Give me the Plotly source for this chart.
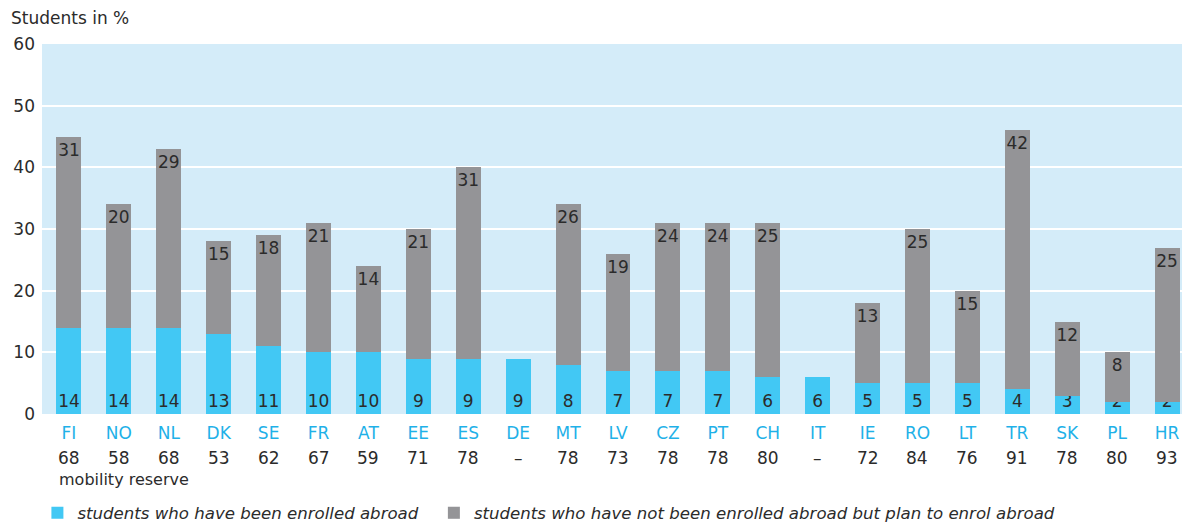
import plotly.graph_objects as go

countries = ["FI", "NO", "NL", "DK", "SE", "FR", "AT", "EE", "ES", "DE", "MT", "LV",
             "CZ", "PT", "CH", "IT", "IE", "RO", "LT", "TR", "SK", "PL", "HR"]
enrolled = [14, 14, 14, 13, 11, 10, 10, 9, 9, 9, 8, 7, 7, 7, 6, 6, 5, 5, 5, 4, 3, 2, 2]
plan = [31, 20, 29, 15, 18, 21, 14, 21, 31, None, 26, 19, 24, 24, 25, None, 13, 25, 15, 42, 12, 8, 25]
mobility_reserve = ["68", "58", "68", "53", "62", "67", "59", "71", "78", "–", "78", "73",
                    "78", "78", "80", "–", "72", "84", "76", "91", "78", "80", "93"]
y_ticks = [0, 10, 20, 30, 40, 50, 60]

FONT = "DejaVu Sans"
TXT = "#2b2b2b"
BLUE = "#42c8f4"
GRAY = "#949497"
LABEL_BLUE = "#1fb1e8"

# the page body has an 8px margin; figure is sized so the plot lands where the reference has it
W, H = 1182, 515
L, T, B, R = 34, 36, 109, 0
PLOT_H = H - T - B

fig = go.Figure()
fig.add_trace(go.Bar(
    x=countries, y=enrolled, name="students who have been enrolled abroad\u00a0\u00a0",
    marker=dict(color=BLUE, line=dict(width=0)),
    text=[str(v) for v in enrolled], textposition="inside", insidetextanchor="start",
    textfont=dict(color=TXT, size=17, family=FONT), textangle=0,
))
fig.add_trace(go.Bar(
    x=countries, y=plan, name="students who have not been enrolled abroad but plan to enrol abroad",
    marker=dict(color=GRAY, line=dict(width=0)),
    text=["" if v is None else str(v) for v in plan], textposition="inside", insidetextanchor="end",
    textfont=dict(color=TXT, size=17, family=FONT), textangle=0,
))

for c, m in zip(countries, mobility_reserve):
    fig.add_annotation(x=c, y=-44 / PLOT_H, xref="x", yref="paper", text=m, showarrow=False,
                       font=dict(size=17, color=TXT, family=FONT), yanchor="middle")

fig.add_annotation(x=(57 - 42) / (W - L - R), y=-65 / PLOT_H, xref="paper", yref="paper",
                   text="mobility reserve", showarrow=False,
                   font=dict(size=16, color=TXT, family=FONT), xanchor="left", yanchor="middle")

fig.add_annotation(x=(9 - 42) / (W - L - R), y=1 + 26 / PLOT_H, xref="paper", yref="paper",
                   text="Students in %", showarrow=False,
                   font=dict(size=17, color=TXT, family=FONT), xanchor="left", yanchor="middle")

fig.update_layout(
    width=W, height=H,
    margin=dict(l=L, r=R, t=T, b=B, autoexpand=False),
    barmode="stack", bargap=0.5,
    plot_bgcolor="#d4ecf9", paper_bgcolor="white",
    font=dict(family=FONT, color=TXT, size=17),
    uniformtext=dict(minsize=17, mode="show"),
    showlegend=True,
    legend=dict(orientation="h", x=-0.004, xanchor="left", y=-99 / PLOT_H, yanchor="middle",
                font=dict(size=16.6, style="italic", color=TXT, family=FONT),
                traceorder="normal", bgcolor="rgba(0,0,0,0)"),
)
fig.update_xaxes(
    tickmode="array", tickvals=countries,
    ticktext=[f"<span style='color:{LABEL_BLUE}'>{c}</span>" for c in countries],
    tickfont=dict(size=17, family=FONT, color=LABEL_BLUE), ticks="", showgrid=False,
    zeroline=False, showline=False, range=[-0.54, 22.46], ticklabelstandoff=7,
)
fig.update_yaxes(
    range=[0, 60], tickvals=y_ticks, showgrid=True, gridcolor="white", gridwidth=2,
    zeroline=False, showline=False, ticks="", tickfont=dict(size=17, family=FONT, color=TXT),
    ticklabelstandoff=6,
)

fig.write_html("out.html")
